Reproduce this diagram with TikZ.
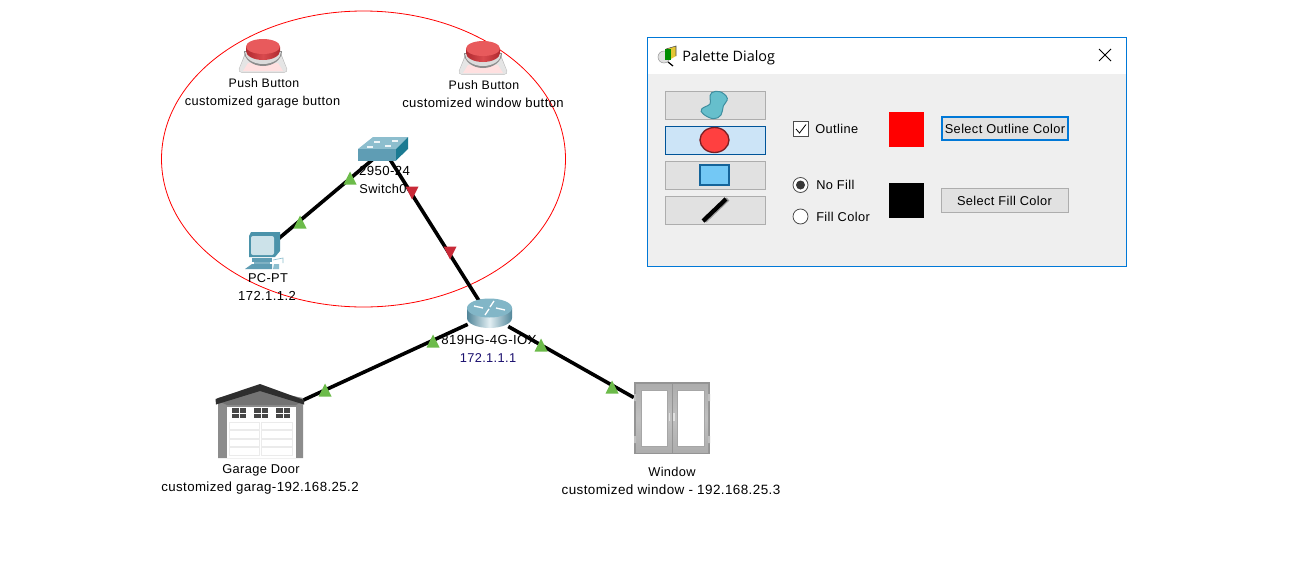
\documentclass[tikz,border=0pt]{standalone}
\usepackage{fontspec}
\setmainfont[LetterSpace=3]{Liberation Sans}
\newfontfamily\titlefont{Open Sans}
\definecolor{lnk}{HTML}{6CBB4A}
\definecolor{lnkred}{HTML}{C92A38}
\definecolor{swfront}{HTML}{5F9DB4}
\definecolor{swtop}{HTML}{8DBECE}
\definecolor{swside}{HTML}{1B7A92}
\definecolor{dlgborder}{HTML}{0078D7}
\definecolor{dlgbg}{HTML}{EFEFEF}
\definecolor{btnfill}{HTML}{E1E1E1}
\definecolor{btnline}{HTML}{ADADAD}
\definecolor{selfill}{HTML}{CCE4F7}
\definecolor{selline}{HTML}{005499}
\definecolor{ipblue}{HTML}{1A0F6E}
\definecolor{blobfill}{HTML}{66BFCC}
\definecolor{blobline}{HTML}{3F8FA0}
\definecolor{rectfill}{HTML}{73C8F5}
\definecolor{rectline}{HTML}{14649A}
\definecolor{circfill}{HTML}{FF4040}
\definecolor{circline}{HTML}{7A1F24}
\definecolor{capside}{HTML}{B02A30}
\definecolor{capmid}{HTML}{D94A4E}
\definecolor{captop}{HTML}{E85A5C}
\newcommand{\upmark}[2]{\fill[lnk] (#1-6.5,#2+6.5) -- (#1+6.5,#2+6.5) -- (#1,#2-6.5) -- cycle;}
\newcommand{\downmark}[2]{\fill[lnkred] (#1-6.5,#2-6.5) -- (#1+6.5,#2-6.5) -- (#1,#2+6.5) -- cycle;}
\newcommand{\pushbtn}[2]{%
  \begin{scope}[shift={(#1,#2)}]
    \fill[black!30,rounded corners=3] (-25.5,22.5) -- (25.5,22.5) -- (15,-4) -- (-15,-4) -- cycle;
    \fill[black!10,rounded corners=2.5] (-25,22) -- (25,22) -- (14.5,-3) -- (-14.5,-3) -- cycle;
    \fill[red!12!white] (-15,13) -- (15,13) -- (20,21) -- (-20,21) -- cycle;
    \fill[black!45] (-19,1) -- (19,1) arc[start angle=0,end angle=180,x radius=19,y radius=15] -- cycle;
    \fill[black!14] (-18,2) -- (18,2) arc[start angle=0,end angle=180,x radius=18,y radius=12] -- cycle;
    \shade[left color=capside,right color=capside,middle color=capmid]
      (-17,-3) -- (-17,1) arc[start angle=180,end angle=0,x radius=17,y radius=9] -- (17,-3) -- cycle;
    \fill[captop] (0,-3.5) ellipse[x radius=17,y radius=7.5];
  \end{scope}}
\tikzset{
  x=0.75pt,y=-0.75pt,
  devlabel/.style={anchor=base,inner sep=0pt,font=\fontsize{#1}{11pt}\selectfont,text=black},
  devlabel/.default={9.6pt},
  link/.style={line width=2.7pt,black},
  dlgbtn/.style={draw=btnline,fill=btnfill,line width=0.75pt,inner sep=0pt,anchor=north west,minimum width=75pt,minimum height=21pt},
  dlgtext/.style={anchor=base west,inner sep=0pt,font=\fontsize{9.6pt}{11pt}\selectfont},
  actionbtn/.style={draw=btnline,fill=btnfill,line width=0.75pt,inner sep=0pt,minimum width=96pt-0.75pt,minimum height=19pt-0.75pt,font=\fontsize{9.6pt}{11pt}\selectfont},
}
\begin{document}
\begin{tikzpicture}
\useasboundingbox (0,0) rectangle (1300,579);
\fill[white] (0,0) rectangle (1300,579);

% device anchors (transparent boxes the connectors stop at)
\node[inner sep=0pt,minimum width=24pt,minimum height=12pt] (sw) at (384,150) {};
\node[inner sep=0pt,minimum width=18pt,minimum height=22pt] (pc) at (265,250) {};
\node[inner sep=0pt,minimum width=30pt,minimum height=18pt] (router) at (488,315) {};
\node[inner sep=0pt,minimum width=62pt,minimum height=50pt] (garage) at (260,420) {};
\node[inner sep=0pt,minimum width=54pt,minimum height=50pt] (window) at (670,418) {};

% selection ellipse
\draw[red,line width=0.6pt] (363.5,159) ellipse[x radius=202,y radius=148];

% connectors
\draw[link] (pc) -- (sw);
\draw[link] (sw) -- (router);
\draw[link] (router) -- (garage);
\draw[link] (router) -- (window);

% push buttons
\pushbtn{263}{50}
\pushbtn{483}{52}

% switch
\fill[swtop] (358,149) -- (373,137) -- (408,137) -- (396,149) -- cycle;
\fill[swfront] (358,149) rectangle (396,160.5);
\fill[swside] (396,149) -- (408,137) -- (408,149) -- (396,160.5) -- cycle;
\draw[white!85!swtop,line width=0.8pt] (367,147) -- (373,147) (374,142) -- (380,142) (385,146) -- (391,146) (392,141) -- (398,141);

% PC
\fill[swfront!70!swside] (249,236) -- (251,232) -- (280,232) -- (280,251) -- (275,257) -- (249,257) -- cycle;
\fill[swtop!45!white] (251,236) [rounded corners=1.5] rectangle (274,255);
\fill[swfront] (252,258) rectangle (272,262);
\fill[swfront!80!white] (254,262) rectangle (270,264);
\fill[swfront] (245,269) -- (252,264) -- (272,264) -- (272,269) -- cycle;
\fill[swtop] (273,269) -- (274,264) -- (279,264) -- (279,269) -- cycle;
\draw[swtop,line width=0.5pt] (273,260) -- (283,258) -- (283,263);

% router
\shade[left color=swfront!85!black,right color=swfront!85!black,middle color=white!75!swtop]
  (467,308) -- (467,318) arc[start angle=180,end angle=0,x radius=22.5,y radius=10] -- (512,308) -- cycle;
\fill[swtop!75!swfront] (489.5,308) ellipse[x radius=22.5,y radius=9.5];
\draw[white,line width=1pt]
  (474,306) -- (483,308) (505,310) -- (496,308)
  (494,301) -- (490,307) (485,315) -- (489,309);

% garage door
\fill[black!45] (218,398) -- (260,389) -- (303,398) -- (303,458) -- (218,458) -- cycle;
\fill[black!55] (218,401) -- (260,389) -- (303,401) -- (296,405) -- (227,405) -- cycle;
\fill[white] (227,407) rectangle (296,458);
\fill[black!82!white] (215.5,399) -- (260,384) -- (304,400) -- (304,404.5) -- (260,391) -- (216,404.5) -- cycle;
\foreach \wx in {232,254,276} {
  \fill[black!72] (\wx,408) rectangle ++(14,10);
  \draw[white,line width=0.5pt] (\wx+7,408) -- (\wx+7,418) (\wx,413) -- (\wx+14,413);
}
\foreach \py in {422,430.5,439,447.5} {
  \draw[black!8,line width=0.7pt] (229,\py) rectangle (259.5,\py+7.5);
  \draw[black!8,line width=0.7pt] (261,\py) rectangle (292,\py+7.5);
}

% window
\fill[black!42] (634,382) rectangle (710,454);
\shade[top color=black!32,bottom color=black!32,middle color=black!25] (636,384) rectangle (708,452);
\fill[white] (641,390) rectangle (667,446);
\fill[white] (677,390) rectangle (704,446);
\draw[black!42,line width=0.6pt] (672,383) -- (672,453);
\draw[black!35,line width=0.4pt] (641,390) rectangle (667,446) (677,390) rectangle (704,446);
\draw[black!12,line width=0.8pt] (669.5,413) -- (669.5,421) (674,413) -- (674,421);
\fill[black!25] (634,394) rectangle (636,401) (634,436) rectangle (636,443) (708,394) rectangle (710,401) (708,436) rectangle (710,443);

% link lights
\upmark{350}{178}
\upmark{300}{222}
\downmark{412}{193}
\downmark{450}{253}
\upmark{433}{341}
\upmark{325}{390}
\upmark{541}{345}
\upmark{612}{387}

% device labels
\node[devlabel=9.25pt] (b1a) at (264,87) {Push Button};
\node[devlabel] (b1b) at (262.5,105) {customized garage button};
\node[devlabel=9.25pt] (b2a) at (484,89) {Push Button};
\node[devlabel=9.8pt] (b2b) at (483,107) {customized window button};
\node[devlabel=9.9pt] (swa) at (384.5,175.5) {2950-24};
\node[devlabel] (swb) at (383,193.5) {Switch0};
\node[devlabel] (pca) at (268,282) {PC-PT};
\node[devlabel=9.8pt] (pcb) at (267,300) {172.1.1.2};
\node[devlabel=9.9pt] (ra) at (489,344) {819HG-4G-IOX};
\node[devlabel,text=ipblue] (rb) at (488,362) {172.1.1.1};
\node[devlabel] (ga) at (261,473) {Garage Door};
\node[devlabel=9.95pt] (gb) at (260,491.5) {customized garag-192.168.25.2};
\node[devlabel] (wa) at (672,476) {Window};
\node[devlabel=10.1pt] (wb) at (671,494) {customized window - 192.168.25.3};

% dialog
\fill[white] (647.5,37.5) rectangle (1126.5,74);
\fill[dlgbg] (647.5,74) rectangle (1126.5,266.5);
\draw[dlgborder,line width=0.75pt] (647.5,37.5) rectangle (1126.5,266.5);
\node[anchor=base west,inner sep=0pt,font=\titlefont\fontsize{10.8pt}{12pt}\selectfont] (title) at (682,61) {Palette Dialog};
\draw[black,line width=0.75pt] (1099,49) -- (1111,61) (1111,49) -- (1099,61);

% dialog title icon
\fill[black!12] (664,57) circle[radius=6];
\draw[black!40,line width=0.4pt] (664,57) circle[radius=6];
\draw[black,line width=0.9pt] (668,62) -- (673,66);
\fill[yellow!55!brown] (666,49) -- (676,46) -- (676,56) -- (669,60) -- (666,58) -- cycle;
\fill[green!55!black] (665,49) rectangle (671,60);
\draw[black!70,line width=0.4pt] (666,49) -- (676,46) -- (676,56);

% palette buttons
\node[dlgbtn] (shapeA) at (664.6,90.6) {};
\node[dlgbtn,draw=selline,fill=selfill] (shapeB) at (664.6,125.6) {};
\node[dlgbtn] (shapeC) at (664.6,160.6) {};
\node[dlgbtn] (shapeD) at (664.6,195.6) {};
\draw[blobline,fill=blobfill,line width=0.75pt,smooth cycle,tension=0.7]
  plot coordinates {(711.7,92.7) (720,91.7) (727.3,98.3) (723.3,106) (721,115) (713.3,118.7) (703.3,114) (701.7,109) (710,104) (710,98.3)};
\draw[circline,fill=circfill,line width=1pt] (714.5,140) ellipse[x radius=14.5,y radius=12.5];
\draw[rectline,fill=rectfill,line width=1.3pt] (700,165) rectangle (729,185);
\draw[black!40,line width=3pt] (705,221) -- (728,199);
\draw[black,line width=3.2pt] (703,221) -- (726,199);

% checkbox and radios
\draw[black!70,fill=white,line width=0.6pt] (793.5,121.5) rectangle (808.5,136.5);
\draw[black,line width=0.6pt] (796,129) -- (799.5,133) -- (806,124.5);
\node[dlgtext] (lblOutline) at (815,133) {Outline};
\node[draw=black!70,fill=white,circle,inner sep=0pt,minimum size=11.25pt,line width=0.6pt] (radNo) at (800.5,185) {};
\fill[black!78] (radNo) circle[radius=4.5];
\node[draw=black!70,fill=white,circle,inner sep=0pt,minimum size=11.25pt,line width=0.6pt] (radFill) at (800.5,216.5) {};
\node[dlgtext] (lblNo) at (816,189) {No Fill};
\node[dlgtext] (lblFill) at (816,221) {Fill Color};

% swatches
\fill[red] (889,112) rectangle (924,147);
\fill[black] (889,183) rectangle (924,218);

% action buttons
\node[actionbtn,draw=dlgborder,line width=1.5pt,minimum width=95pt-0.75pt,minimum height=18pt-0.75pt] (btnOutline) at (1005,128.8) {Select Outline Color};
\node[actionbtn] (btnFill) at (1004.5,200.8) {Select Fill Color};
\end{tikzpicture}
\end{document}
